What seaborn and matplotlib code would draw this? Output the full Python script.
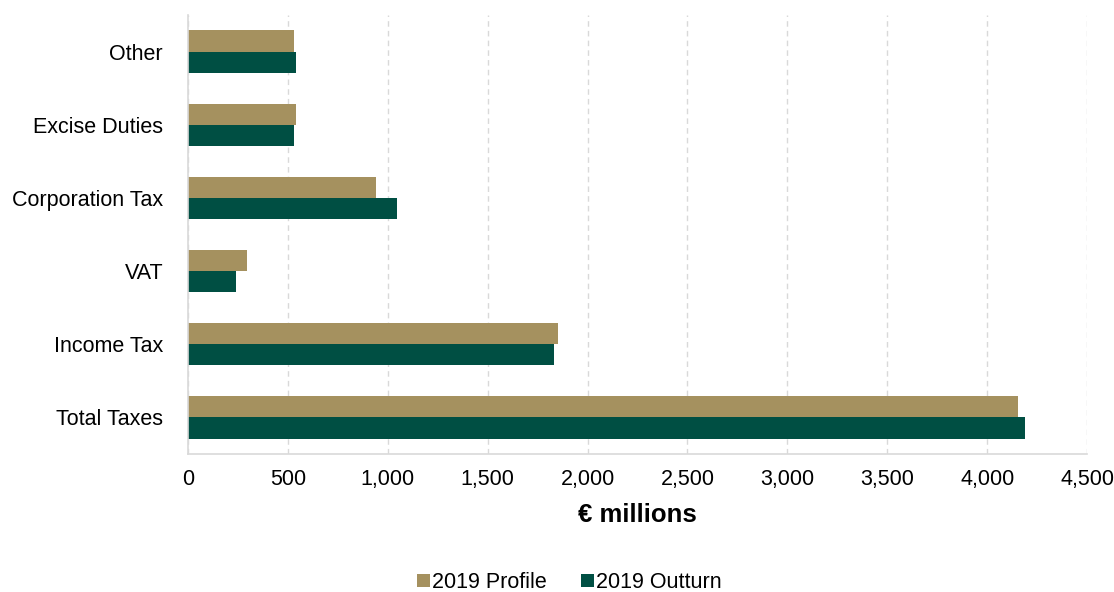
import pandas as pd
import matplotlib.pyplot as plt
import seaborn as sns
from matplotlib.ticker import FuncFormatter
from matplotlib.patches import Patch

# Data (€ millions)
categories = ['Other', 'Excise Duties', 'Corporation Tax', 'VAT', 'Income Tax', 'Total Taxes']
profile_2019 = [530, 538, 943, 293, 1852, 4155]
outturn_2019 = [538, 530, 1045, 240, 1833, 4187]
series_names = ['2019 Profile', '2019 Outturn']
x_ticks = [0, 500, 1000, 1500, 2000, 2500, 3000, 3500, 4000, 4500]

df = pd.DataFrame({
    'category': categories * 2,
    'value': profile_2019 + outturn_2019,
    'series': [series_names[0]] * len(categories) + [series_names[1]] * len(categories),
})

colors = ['#A5915F', '#004F43']

sns.set_style('white')
plt.rcParams['font.family'] = ['Liberation Sans', 'DejaVu Sans']

fig = plt.figure(figsize=(11.14, 5.92), dpi=100)
ax = fig.add_axes([0.1688, 0.2331, 0.8070, 0.7416])

sns.barplot(data=df, y='category', x='value', hue='series', order=categories,
            hue_order=series_names, palette=colors, orient='h', width=0.58,
            saturation=1, legend=False, linewidth=0, ax=ax)

ax.set_xlim(0, 4500)
ax.set_ylim(5.5, -0.5)
ax.set_xticks(x_ticks)
ax.xaxis.set_major_formatter(FuncFormatter(lambda v, p: f'{int(v):,}'))
ax.grid(axis='x', color='#D9D9D9', linestyle=(0, (4, 3)), linewidth=1)
ax.set_axisbelow(True)

for s in ['top', 'right']:
    ax.spines[s].set_visible(False)
for s in ['left', 'bottom']:
    ax.spines[s].set_color('#D9D9D9')
    ax.spines[s].set_linewidth(1.2)

ax.tick_params(axis='both', length=0, labelsize=15.5, colors='#000000')
ax.tick_params(axis='x', pad=11)
ax.tick_params(axis='y', pad=18)
ax.set_ylabel('')
ax.set_xlabel('€ millions', fontsize=18.5, fontweight='bold', labelpad=9, color='#000000')

handles = [Patch(facecolor=c, edgecolor='none') for c in colors]
fig.legend(handles, series_names, loc='center', bbox_to_anchor=(0.511, 0.016),
           ncol=2, frameon=False, fontsize=15.5, handlelength=0.6, handleheight=0.6,
           handletextpad=0.1, columnspacing=1.6, labelcolor='#000000')

plt.savefig('out.png', dpi=100)
plt.close()
